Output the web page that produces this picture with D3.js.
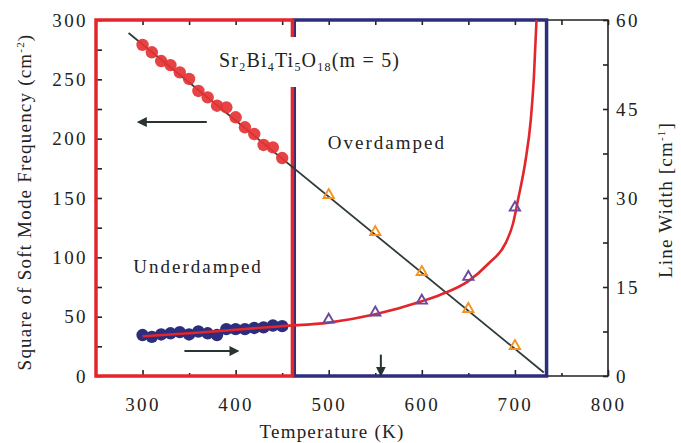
<!DOCTYPE html>
<html>
<head>
<meta charset="utf-8">
<script src="https://cdn.jsdelivr.net/npm/d3@7.9.0/dist/d3.min.js"></script>
<style>
  body { margin: 0; background: #fff; }
  svg, svg text { font-family: "Liberation Serif", "Times New Roman", serif; }
  svg { display: block; }
</style>
</head>
<body>
<svg id="chart" width="681" height="443"></svg>
<script>
// data
const tempsLow = [300, 310, 320, 330, 340, 350, 360, 370, 380, 390, 400, 410, 420, 430, 440, 450];
const freqSqLow = [279, 272.8, 265.4, 262, 255.9, 250.3, 240.2, 234.8, 227.8, 226.4, 218, 209.6, 203.9, 194.7, 192.7, 183.7];
const widthLow = [6.9, 6.6, 7.0, 7.2, 7.4, 7.0, 7.5, 7.2, 6.9, 7.9, 7.9, 7.9, 8.1, 8.2, 8.5, 8.4];

const tempsHigh = [500, 550, 600, 650, 700];
const freqSqHigh = [152.5, 121.3, 87.6, 56.5, 25.3];
const widthHigh = [9.5, 10.7, 12.7, 16.7, 28.4];

// linear fit of square frequency (temperature, cm^-2)
const fitLine = [[285, 289], [731, 3]];
// line width fit (temperature, cm^-1)
const widthCurve = [[300, 6.7], [350, 7.2], [400, 7.8], [450, 8.4], [500, 9.0], [550, 10.4], [600, 12.6],
  [620, 13.7], [650, 16.0], [672, 19.0], [690, 22.4], [698, 25.7], [704, 30.2], [711.5, 36.4],
  [717, 43.1], [720.4, 50.4], [723.2, 60]];

const regionNames = ['Underdamped', 'Overdamped'];
const regionBounds = [[250, 461], [463, 734]];

const xTicks = [300, 400, 500, 600, 700, 800];
const xMinor = [350, 450, 550, 650, 750];
const yLeftTicks = [0, 50, 100, 150, 200, 250, 300];
const yRightTicks = [0, 15, 30, 45, 60];

const red = '#e3262b';
const navy = '#2c2e7d';
const ink = '#222';

const svg = d3.select('#chart');

const x = d3.scaleLinear().domain([250, 800]).range([96, 608]);
const yL = d3.scaleLinear().domain([0, 300]).range([376, 20]);
const yR = d3.scaleLinear().domain([0, 60]).range([376, 20]);

// black frame for the right part
svg.append('path')
  .attr('d', `M${x(734)},${yR(60)}H${x(800)}V${yR(0)}H${x(734)}`)
  .attr('fill', 'none').attr('stroke', ink).attr('stroke-width', 1.6);

// ticks
const tickStyle = g => {
  g.attr('font-family', null).attr('font-size', null);
  g.select('.domain').remove();
  g.selectAll('.tick line').attr('stroke', ink).attr('stroke-width', 1.6);
  g.selectAll('.tick text').attr('fill', ink).style('font-size', '19px').style('letter-spacing', '2.4px');
};

svg.append('g').attr('transform', `translate(0,${yL(0)})`)
  .call(d3.axisBottom(x).tickValues(xTicks).tickSize(-6).tickPadding(22).tickFormat(d3.format('d')))
  .call(tickStyle);
svg.append('g').attr('transform', `translate(0,${yL(0)})`)
  .call(d3.axisBottom(x).tickValues(xMinor).tickSize(-3).tickFormat(''))
  .call(tickStyle);
svg.append('g').attr('transform', `translate(0,${yL(300)})`)
  .call(d3.axisTop(x).tickValues(xTicks.concat(xMinor)).tickSize(-5).tickFormat(''))
  .call(tickStyle);

svg.append('g').attr('transform', `translate(${x(250)},0)`)
  .call(d3.axisLeft(yL).tickValues(d3.range(0, 301, 25)).tickSize(-6).tickPadding(8)
    .tickFormat(d => yLeftTicks.includes(d) ? d : ''))
  .call(tickStyle);

svg.append('g').attr('transform', `translate(${x(800)},0)`)
  .call(d3.axisRight(yR).tickValues(d3.range(0, 60.1, 7.5)).tickSize(-5).tickPadding(8)
    .tickFormat(d => yRightTicks.includes(d) ? d : ''))
  .call(tickStyle);

// region boxes
svg.append('rect')
  .attr('x', x(regionBounds[1][0])).attr('y', yL(300))
  .attr('width', x(regionBounds[1][1]) - x(regionBounds[1][0])).attr('height', yL(0) - yL(300))
  .attr('fill', 'none').attr('stroke', navy).attr('stroke-width', 3.5);
svg.append('rect')
  .attr('x', x(regionBounds[0][0])).attr('y', yL(300))
  .attr('width', x(regionBounds[0][1]) - x(regionBounds[0][0])).attr('height', yL(0) - yL(300))
  .attr('fill', 'none').attr('stroke', red).attr('stroke-width', 3.5);

// arrow marker
svg.append('defs').append('marker')
  .attr('id', 'head').attr('viewBox', '0 0 10 10').attr('refX', 8).attr('refY', 5)
  .attr('markerWidth', 5).attr('markerHeight', 5).attr('orient', 'auto-start-reverse')
  .attr('markerUnits', 'strokeWidth')
  .append('path').attr('d', 'M0,0L10,5L0,10z').attr('fill', '#2a3333');

// fit line
svg.append('path')
  .datum(fitLine)
  .attr('d', d3.line().x(d => x(d[0])).y(d => yL(d[1])))
  .attr('fill', 'none').attr('stroke', '#2f3b3b').attr('stroke-width', 1.8);

// red dots
svg.append('g').selectAll('circle')
  .data(tempsLow.map((t, i) => [t, freqSqLow[i]]))
  .join('circle')
  .attr('cx', d => x(d[0])).attr('cy', d => yL(d[1])).attr('r', 6.2)
  .attr('fill', '#e53335').attr('fill-opacity', 0.92);

// navy dots
svg.append('g').selectAll('circle')
  .data(tempsLow.map((t, i) => [t, widthLow[i]]))
  .join('circle')
  .attr('cx', d => x(d[0])).attr('cy', d => yR(d[1])).attr('r', 6.2)
  .attr('fill', navy);

// line width curve, drawn over the dots
svg.append('path')
  .datum(widthCurve)
  .attr('d', d3.line().x(d => x(d[0])).y(d => yR(d[1])).curve(d3.curveMonotoneX))
  .attr('fill', 'none').attr('stroke', red).attr('stroke-width', 2.6);

const tri = d3.symbol(d3.symbolTriangle, 46);
svg.append('g').selectAll('path')
  .data(tempsHigh.map((t, i) => [t, freqSqHigh[i]]))
  .join('path')
  .attr('transform', d => `translate(${x(d[0])},${yL(d[1])})`)
  .attr('d', tri).attr('fill', 'none').attr('stroke', '#f39322').attr('stroke-width', 1.9);
svg.append('g').selectAll('path')
  .data(tempsHigh.map((t, i) => [t, widthHigh[i]]))
  .join('path')
  .attr('transform', d => `translate(${x(d[0])},${yR(d[1])})`)
  .attr('d', tri).attr('fill', 'none').attr('stroke', '#6a4a9e').attr('stroke-width', 1.9);

// arrows
const arrow = (x1, y1, x2, y2) => svg.append('line')
  .attr('x1', x1).attr('y1', y1).attr('x2', x2).attr('y2', y2)
  .attr('stroke', '#2a3333').attr('stroke-width', 2).attr('marker-end', 'url(#head)');
arrow(x(369), yL(214), x(296), yL(214));
arrow(x(345), yR(4.2), x(402), yR(4.2));
arrow(x(556), yL(18), x(556), yL(1));

// title with white background
svg.append('rect').attr('x', 214).attr('y', 37).attr('width', 192).attr('height', 50).attr('fill', '#fff');
const title = svg.append('text').attr('x', 219).attr('y', 67)
  .style('font-size', '20px').style('letter-spacing', '1.2px').attr('fill', ink);
[['Sr', false], ['2', true], ['Bi', false], ['4', true], ['Ti', false], ['5', true], ['O', false], ['18', true], ['(m = 5)', false]]
  .forEach(([s, sub], i) => {
    const t = title.append('tspan').text(s);
    if (sub) t.style('font-size', '12px').attr('dy', 4);
    else t.attr('dy', i > 0 ? -4 : 0);
  });

// region labels
svg.append('text').attr('x', x(290)).attr('y', yL(87))
  .style('font-size', '19px').style('letter-spacing', '2px').attr('fill', ink).text(regionNames[0]);
svg.append('text').attr('x', x(499)).attr('y', yL(191))
  .style('font-size', '19px').style('letter-spacing', '2px').attr('fill', ink).text(regionNames[1]);

// axis titles
svg.append('text').attr('x', 332).attr('y', 438).attr('text-anchor', 'middle')
  .style('font-size', '19px').style('letter-spacing', '1.2px').attr('fill', ink).text('Temperature (K)');

const lt = svg.append('text').attr('transform', 'translate(31,202) rotate(-90)').attr('text-anchor', 'middle')
  .style('font-size', '19px').style('letter-spacing', '1.2px').attr('fill', ink);
lt.append('tspan').text('Square of Soft Mode Frequency (cm');
lt.append('tspan').text('-2').style('font-size', '11px').attr('dy', -7);
lt.append('tspan').text(')').attr('dy', 7);

const rt = svg.append('text').attr('transform', 'translate(672,200) rotate(-90)').attr('text-anchor', 'middle')
  .style('font-size', '19px').style('letter-spacing', '1.2px').attr('fill', ink);
rt.append('tspan').text('Line Width [cm');
rt.append('tspan').text('-1').style('font-size', '11px').attr('dy', -7);
rt.append('tspan').text(']').attr('dy', 7);
</script>
</body>
</html>
